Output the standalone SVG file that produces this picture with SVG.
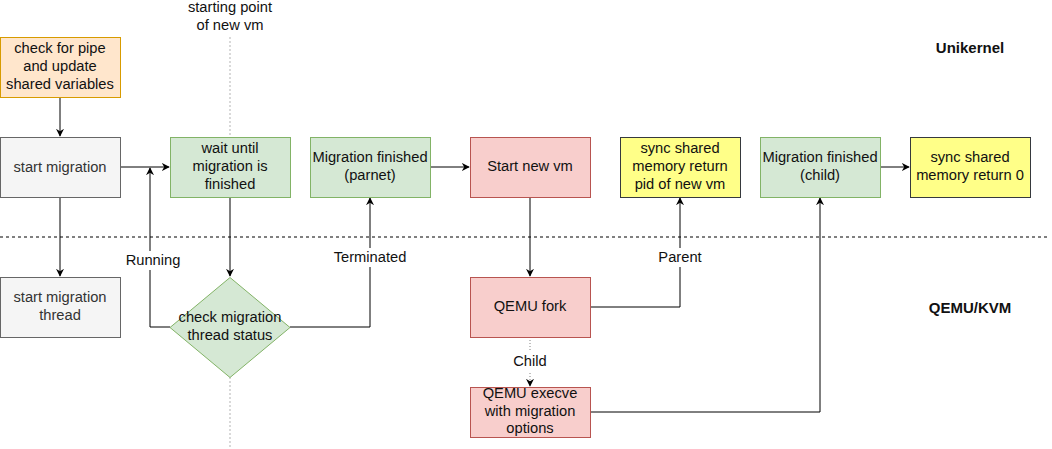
<svg xmlns="http://www.w3.org/2000/svg" width="1052" height="449" viewBox="0 0 1052 449">
<defs>
<style>
text{font-family:"Liberation Sans",Arial,sans-serif;font-size:14.7px;fill:#111;text-anchor:middle}
.b{font-weight:bold;font-size:15px}
.grey{fill:#333333}
.edge{fill:none;stroke:#000;stroke-width:1}
.lbl{fill:#fff}
</style>
<marker id="ah" viewBox="0 0 10 10" refX="9" refY="5" markerWidth="8" markerHeight="8" markerUnits="userSpaceOnUse" orient="auto">
<path d="M0,0 L10,5 L0,10 L3,5 Z" fill="#000"/>
</marker>
</defs>
<rect width="1052" height="449" fill="#fff"/>
<g id="guides">
<line x1="0" y1="237" x2="1048" y2="237" stroke="#000" stroke-dasharray="3 3"/>
<line x1="230" y1="37" x2="230" y2="137" stroke="#b3b3b3" stroke-dasharray="2 2"/>
<line x1="230" y1="377" x2="230" y2="449" stroke="#b3b3b3" stroke-dasharray="2 2"/>
<text x="230" y="12">starting point</text>
<text x="230" y="29.5">of new vm</text>
<text class="b" x="970" y="53">Unikernel</text>
<text class="b" x="970" y="313">QEMU/KVM</text>
</g>
<g id="connectors">
<path class="edge" d="M60,97 V136" marker-end="url(#ah)"/>
<path class="edge" d="M60,197 V276" marker-end="url(#ah)"/>
<path class="edge" d="M120,167 H169" marker-end="url(#ah)"/>
<path class="edge" d="M170,327 H150 V168" marker-end="url(#ah)"/>
<path class="edge" d="M230,197 V276" marker-end="url(#ah)"/>
<path class="edge" d="M290,327 H370 V198" marker-end="url(#ah)"/>
<path class="edge" d="M430,167 H469" marker-end="url(#ah)"/>
<path class="edge" d="M530,197 V276" marker-end="url(#ah)"/>
<path class="edge" d="M590,307 H680 V198" marker-end="url(#ah)"/>
<path d="M530,337 V386" fill="none" stroke="#808080" stroke-dasharray="1 2" marker-end="url(#ah)"/>
<path class="edge" d="M590,412 H820 V198" marker-end="url(#ah)"/>
<path class="edge" d="M880,167 H909" marker-end="url(#ah)"/>
<rect class="lbl" x="124" y="251" width="58" height="19"/>
<text x="153" y="265">Running</text>
<rect class="lbl" x="332" y="248" width="76" height="19"/>
<text x="370" y="262">Terminated</text>
<rect class="lbl" x="658" y="248" width="44" height="19"/>
<text x="680" y="262">Parent</text>
<rect class="lbl" x="512" y="352" width="36" height="19"/>
<text x="530" y="366">Child</text>
</g>
<g id="n-check-pipe">
<rect x="0.5" y="37.5" width="120" height="60" fill="#ffe6cc" stroke="#d79b00"/>
<text x="60" y="53">check for pipe</text>
<text x="60" y="71">and update</text>
<text x="60" y="89">shared variables</text>
</g>
<g id="n-start-migration">
<rect x="0.5" y="137.5" width="120" height="60" fill="#f5f5f5" stroke="#666666"/>
<text class="grey" x="60" y="172">start migration</text>
</g>
<g id="n-wait">
<rect x="170.5" y="137.5" width="120" height="60" fill="#d5e8d4" stroke="#82b366"/>
<text x="230" y="153">wait until</text>
<text x="230" y="171">migration is</text>
<text x="230" y="189">finished</text>
</g>
<g id="n-finished-parent">
<rect x="310.5" y="137.5" width="120" height="60" fill="#d5e8d4" stroke="#82b366"/>
<text x="370" y="162">Migration finished</text>
<text x="370" y="180">(parnet)</text>
</g>
<g id="n-start-new-vm">
<rect x="470.5" y="137.5" width="120" height="60" fill="#f8cecc" stroke="#b85450"/>
<text x="530" y="171">Start new vm</text>
</g>
<g id="n-sync-pid">
<rect x="620.5" y="137.5" width="120" height="60" fill="#ffff88" stroke="#36393d"/>
<text x="680" y="153">sync shared</text>
<text x="680" y="171">memory return</text>
<text x="680" y="189">pid of new vm</text>
</g>
<g id="n-finished-child">
<rect x="760.5" y="137.5" width="120" height="60" fill="#d5e8d4" stroke="#82b366"/>
<text x="820" y="162">Migration finished</text>
<text x="820" y="180">(child)</text>
</g>
<g id="n-sync-0">
<rect x="910.5" y="137.5" width="120" height="60" fill="#ffff88" stroke="#36393d"/>
<text x="970" y="162">sync shared</text>
<text x="970" y="180">memory return 0</text>
</g>
<g id="n-thread">
<rect x="0.5" y="277.5" width="120" height="60" fill="#f5f5f5" stroke="#666666"/>
<text class="grey" x="60" y="302">start migration</text>
<text class="grey" x="60" y="320">thread</text>
</g>
<g id="n-check-status">
<path d="M230,277.5 L290,327.5 L230,377.5 L170,327.5 Z" fill="#d5e8d4" stroke="#82b366"/>
<text x="230" y="322">check migration</text>
<text x="230" y="340">thread status</text>
</g>
<g id="n-qemu-fork">
<rect x="470.5" y="277.5" width="120" height="60" fill="#f8cecc" stroke="#b85450"/>
<text x="530" y="311">QEMU fork</text>
</g>
<g id="n-qemu-execve">
<rect x="470.5" y="387.5" width="120" height="50" fill="#f8cecc" stroke="#b85450"/>
<text x="530" y="398">QEMU execve</text>
<text x="530" y="416">with migration</text>
<text x="530" y="433">options</text>
</g>
</svg>
